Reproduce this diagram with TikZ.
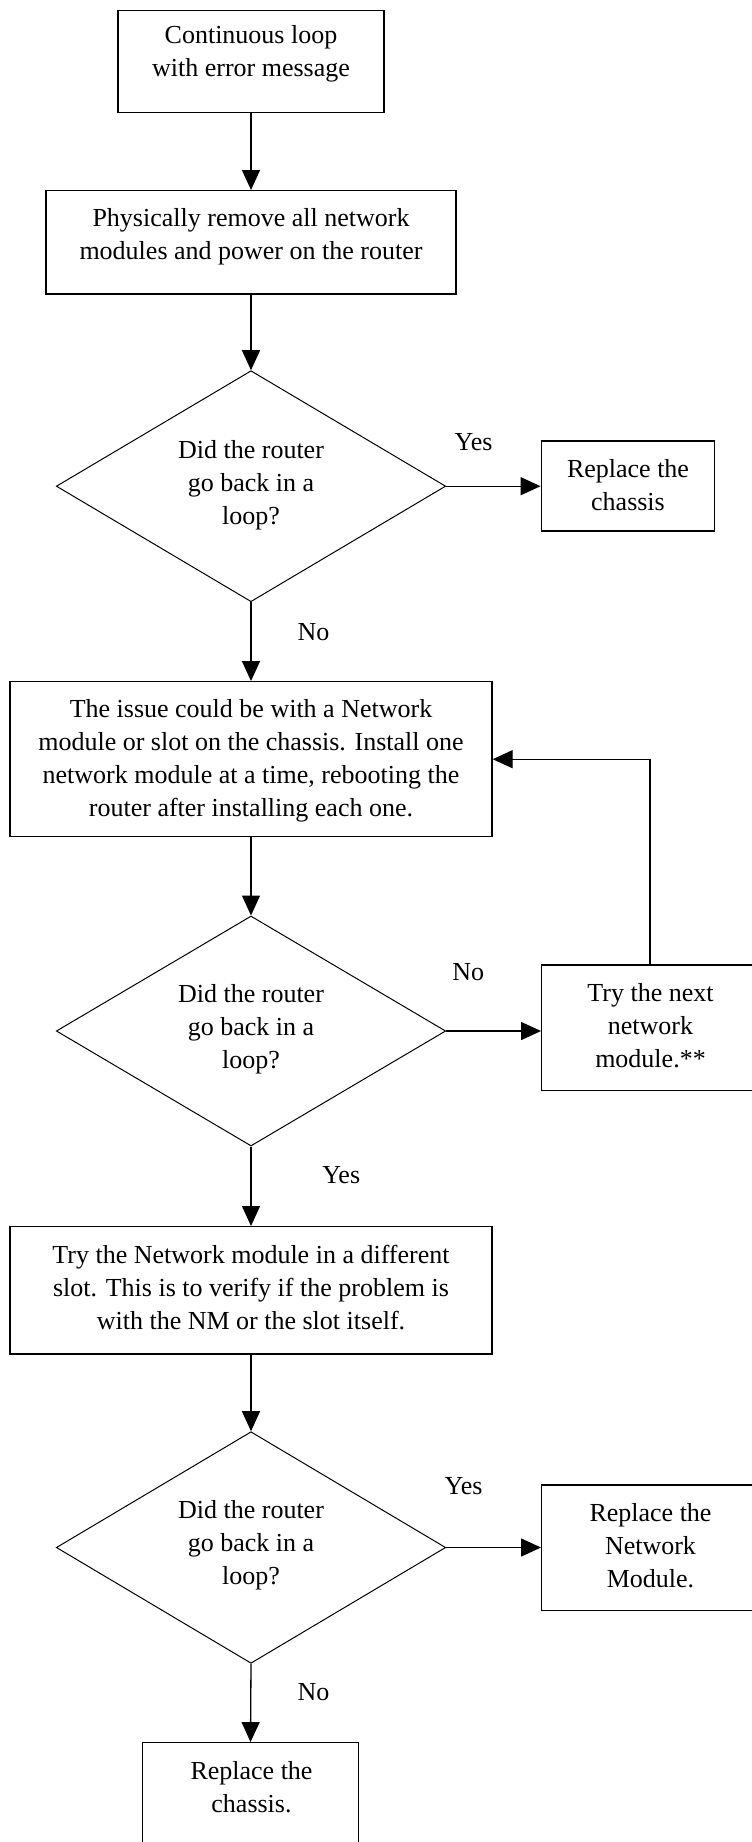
\documentclass[tikz,border=0pt]{standalone}
\usepackage{fontspec}
\setmainfont{Liberation Serif}
\usetikzlibrary{shapes.geometric,arrows.meta}
\begin{document}
\begin{tikzpicture}[x=1pt,y=-1pt,
  box/.style={draw,line width=1.3pt,inner sep=0pt},
  dia/.style={draw,diamond,line width=1pt,inner sep=0pt},
  txt/.style={align=center,font=\fontsize{26}{33}\selectfont,inner sep=0pt},
  lbl/.style={font=\fontsize{26}{33}\selectfont,inner sep=0pt},
  arr/.style={line width=1.3pt,-{Triangle[length=20pt,width=18pt]}}]
\useasboundingbox (0,0) rectangle (752,1842);
\clip (0,0) rectangle (752,1842);
\fill[white] (0,0) rectangle (752,1842);
% boxes
\node[box,minimum width=266pt,minimum height=102pt] (b1) at (251,61.7) {};
\node[box,minimum width=410pt,minimum height=103.3pt] (b2) at (251,242.3) {};
\node[dia,minimum width=389.4pt,minimum height=231pt] (d1) at (251,486.2) {};
\node[box,minimum width=173.6pt,minimum height=90pt] (ch1) at (628,486) {};
\node[box,minimum width=482pt,minimum height=155pt] (b3) at (251,759.2) {};
\node[dia,minimum width=389.4pt,minimum height=230pt] (d2) at (251,1031) {};
\node[box,minimum width=216.6pt,minimum height=125.7pt] (nx) at (650,1027.9) {};
\node[box,minimum width=482pt,minimum height=127.3pt] (b4) at (251,1290.3) {};
\node[dia,minimum width=389.4pt,minimum height=231.6pt] (d3) at (251,1547.5) {};
\node[box,minimum width=216.6pt,minimum height=125.7pt] (nm) at (650,1547.9) {};
\node[box,minimum width=216pt,minimum height=126pt] (ch2) at (250.5,1805.7) {};
% texts
\node[txt] (t1) at (251,54) {Continuous loop\\with error message};
\node[txt] (t2) at (251,236.5) {Physically remove all network\\modules and power on the router};
\node[txt] (td1) at (251,485) {Did the router\\go back in a\\loop?};
\node[txt] (tch1) at (628,485) {Replace the\\chassis};
\node[txt] (t3) at (251,760.4) {The issue could be with a Network\\module or slot on the chassis. Install one\\network module at a time, rebooting the\\router after installing each one.};
\node[txt] (td2) at (251,1029.5) {Did the router\\go back in a\\loop?};
\node[txt] (tnx) at (650.5,1025.8) {Try the next\\network\\module.**};
\node[txt] (t4) at (251,1287.2) {Try the Network module in a different\\slot. This is to verify if the problem is\\with the NM or the slot itself.};
\node[txt] (td3) at (251,1545) {Did the router\\go back in a\\loop?};
\node[txt] (tnm) at (650.5,1545.5) {Replace the\\Network\\Module.};
\node[txt] (tch2) at (251.5,1786.7) {Replace the\\chassis.};
% labels
\node[lbl] (l1) at (473.6,442.5) {Yes};
\node[lbl] (l2) at (313.4,632.3) {No};
\node[lbl] (l3) at (468.3,971.7) {No};
\node[lbl] (l4) at (341.2,1175) {Yes};
\node[lbl] (l5) at (463.5,1485.8) {Yes};
\node[lbl] (l6) at (313.4,1692.5) {No};
% connectors
\draw[arr] (b1.south) -- (b2.north);
\draw[arr] (b2.south) -- (d1.north);
\draw[arr] (d1.east) -- (d1.east -| ch1.west);
\draw[arr] (d1.south) -- (b3.north);
\draw[arr] (b3.south) -- (d2.north);
\draw[arr] (d2.east) -- (d2.east -| nx.west);
\draw[arr] (nx.north) |- (b3.east);
\draw[arr] (d2.south) -- (b4.north);
\draw[arr] (b4.south) -- (d3.north);
\draw[arr] (d3.east) -- (d3.east -| nm.west);
\draw[arr] (d3.south) -- (ch2.north);
\end{tikzpicture}
\end{document}
